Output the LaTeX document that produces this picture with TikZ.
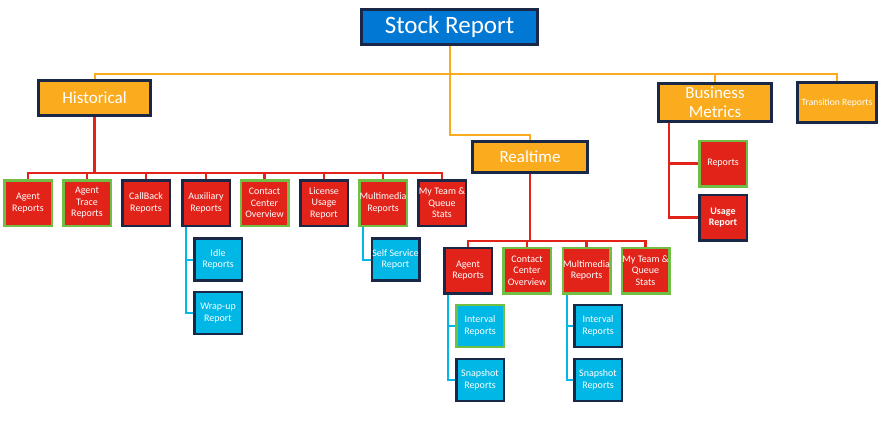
\documentclass[tikz,border=0pt]{standalone}
\usepackage{fontspec}
\setmainfont{Carlito}
\usetikzlibrary{backgrounds}
\definecolor{topblue}{RGB}{0,120,212}
\definecolor{orng}{RGB}{250,171,30}
\definecolor{redc}{RGB}{226,35,26}
\definecolor{cyanc}{RGB}{0,183,230}
\definecolor{grn}{RGB}{112,191,68}
\definecolor{navy}{RGB}{26,40,72}
\tikzset{
  box/.style={draw=navy, line width=2.5pt, text=white, align=center, inner sep=0pt},
  top/.style={box, fill=topblue, minimum width=176, minimum height=35, font=\fontsize{25}{28}\selectfont},
  cat/.style={box, fill=orng, minimum width=112, minimum height=35, font=\fontsize{17}{19}\selectfont},
  item/.style={box, fill=redc, minimum width=47.5, minimum height=45.5, font=\fontsize{10}{11.5}\selectfont},
  sub/.style={box, fill=cyanc, minimum width=47.5, minimum height=42, font=\fontsize{10}{11.5}\selectfont},
  ok/.style={draw=grn},
  oline/.style={draw=orng, line width=2pt},
  rline/.style={draw=redc, line width=2.5pt},
  cline/.style={draw=cyanc, line width=2pt}
}
\begin{document}
\begin{tikzpicture}[x=1pt, y=-1pt]
      \useasboundingbox (0,0) rectangle (896,428);
      \path
        (449.5,27) node[top] (stock){Stock Report}
        (94.5,98) node[cat] (hist){Historical}
        (715,102.5) node[cat, minimum width=113, minimum height=38] (bm){Business\\Metrics}
        (837,102.5) node[cat, minimum width=79, minimum height=40, font=\fontsize{9.6}{10}\selectfont] (trans){Transition Reports}
        (530,157) node[cat, minimum width=115, minimum height=31] (real){Realtime};
      % historical
      \path
        (28,203) node[item, ok] (h1){Agent\\Reports}
        (87,203) node[item, ok] (h2){Agent\\Trace\\Reports}
        (146,203) node[item] (h3){CallBack\\Reports}
        (206,203) node[item] (h4){Auxiliary\\Reports}
        (264.5,203) node[item, ok] (h5){Contact\\Center\\Overview}
        (324,203) node[item] (h6){License\\Usage\\Report}
        (383,203) node[item, ok] (h7){Multimedia\\Reports}
        (442,203) node[item] (h8){My Team \&\\Queue\\Stats}
        (218,259.5) node[sub] (idle){Idle\\Reports}
        (218,313) node[sub] (wrap){Wrap-up\\Report}
        (395.5,259.5) node[sub] (self){Self Service\\Report};
      % realtime
      \path
        (468,270.5) node[item] (r1){Agent\\Reports}
        (527,270.5) node[item, ok] (r2){Contact\\Center\\Overview}
        (586.5,270.5) node[item, ok] (r3){Multimedia\\Reports}
        (645.5,270.5) node[item, ok] (r4){My Team \&\\Queue\\Stats}
        (480,326) node[sub, ok] (aint){Interval\\Reports}
        (480,380) node[sub] (asnap){Snapshot\\Reports}
        (598,326) node[sub] (mint){Interval\\Reports}
        (598,380) node[sub] (msnap){Snapshot\\Reports};
      % business metrics
      \path
        (723,163.5) node[item, ok] (bmr){Reports}
        (723,217.5) node[item, font=\fontsize{10}{11.5}\bfseries] (bmu){Usage\\Report};
      \coordinate (obus) at (449.5,74);
      \coordinate (obend) at (449.5,135);
      \coordinate (hbus) at (94.5,173);
      \coordinate (rbus) at (530,241);
      \coordinate (bmtrunk) at (669,123);
      \begin{scope}[on background layer]
        \draw[oline] (hist.north) |- (obus) -| (trans.north);
        \draw[oline] (bm.north) -- (bm.north |- obus);
        \draw[oline] (stock.south) |- (obend) -| (real.north);
        \draw[rline] (hist.south) -- (hbus);
        \draw[rline] (h1.north) |- (hbus) -| (h8.north);
        \foreach \n in {h2,h3,h4,h5,h6,h7}
          \draw[rline] (\n.north) -- (\n.north |- hbus);
        \draw[rline] (real.south) -- (rbus);
        \draw[rline] (r1.north) |- (rbus) -| (r4.north);
        \foreach \n in {r2,r3}
          \draw[rline] (\n.north) -- (\n.north |- rbus);
        \draw[rline] (bmtrunk) |- (bmr.west);
        \draw[rline] (bmtrunk) |- (bmu.west);
        \draw[cline] ([xshift=-20pt]h4.south) |- (idle.west);
        \draw[cline] ([xshift=-20pt]h4.south) |- (wrap.west);
        \draw[cline] ([xshift=-20pt]h7.south) |- (self.west);
        \draw[cline] ([xshift=-20pt]r1.south) |- (aint.west);
        \draw[cline] ([xshift=-20pt]r1.south) |- (asnap.west);
        \draw[cline] ([xshift=-19.5pt]r3.south) |- (mint.west);
        \draw[cline] ([xshift=-19.5pt]r3.south) |- (msnap.west);
      \end{scope}
    \end{tikzpicture}
\end{document}
